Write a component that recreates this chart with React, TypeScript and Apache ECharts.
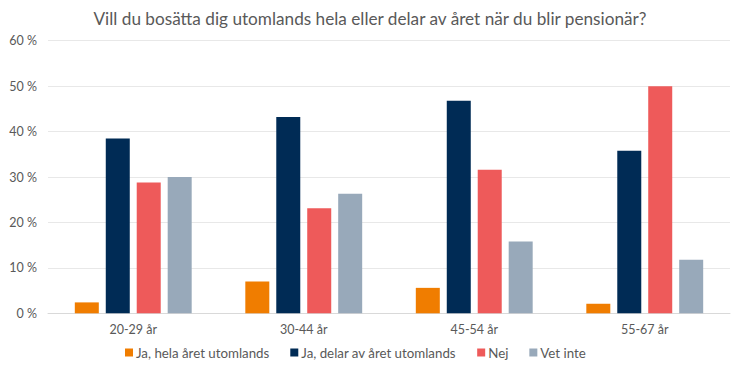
import React, { useEffect, useRef } from "react";
import * as echarts from "echarts";

const categories = ["20-29 år", "30-44 år", "45-54 år", "55-67 år"];
const seriesNames = ["Ja, hela året utomlands", "Ja, delar av året utomlands", "Nej", "Vet inte"];
const helaAret = [2.4, 7.0, 5.6, 2.1];
const delarAvAret = [38.5, 43.2, 46.8, 35.8];
const nej = [28.8, 23.1, 31.6, 50.0];
const vetInte = [30.0, 26.3, 15.8, 11.8];
const colors = ["#F07D00", "#002B55", "#EE5A5A", "#98A9BA"];

export default function App() {
  const ref = useRef<HTMLDivElement>(null);
  useEffect(() => {
    if (!ref.current) return;
    const chart = echarts.init(ref.current, undefined, { renderer: "svg" });
    const dataSets = [helaAret, delarAvAret, nej, vetInte];
    chart.setOption({
      animation: false,
      textStyle: { fontFamily: "Lato, 'Noto Sans', sans-serif" },
      title: {
        text: "Vill du bosätta dig utomlands hela eller delar av året när du blir pensionär?",
        left: "center",
        top: 5,
        textStyle: { fontSize: 17.2, fontWeight: "normal", color: "#595959", fontFamily: "Lato, 'Noto Sans', sans-serif" },
      },
      legend: {
        bottom: 8,
        left: 120,
        itemWidth: 8,
        itemHeight: 8,
        itemGap: 21,
        icon: "rect",
        textStyle: { fontSize: 13.3, color: "#595959", padding: [0, 0, 0, -2] },
        data: seriesNames,
      },
      grid: { left: 48, right: 10, top: 40.7, bottom: 58.7, containLabel: false },
      xAxis: {
        type: "category",
        data: categories,
        axisLine: { lineStyle: { color: "#d9d9d9" } },
        axisTick: { show: false },
        axisLabel: { color: "#595959", fontSize: 12.5, margin: 10 },
      },
      yAxis: {
        type: "value",
        min: 0,
        max: 60,
        interval: 10,
        axisLine: { show: false },
        axisTick: { show: false },
        splitLine: { lineStyle: { color: "#e8e8e8" } },
        axisLabel: { color: "#595959", fontSize: 12.5, formatter: "{value} %", margin: 11 },
      },
      series: seriesNames.map((name, i) => ({
        name,
        type: "bar",
        data: dataSets[i],
        barWidth: 24,
        barGap: "29%",
        itemStyle: { color: colors[i] },
      })),
    });
    return () => chart.dispose();
  }, []);
  return <div ref={ref} style={{ width: 740, height: 372, position: "absolute", left: 0, top: 0 }} />;
}
